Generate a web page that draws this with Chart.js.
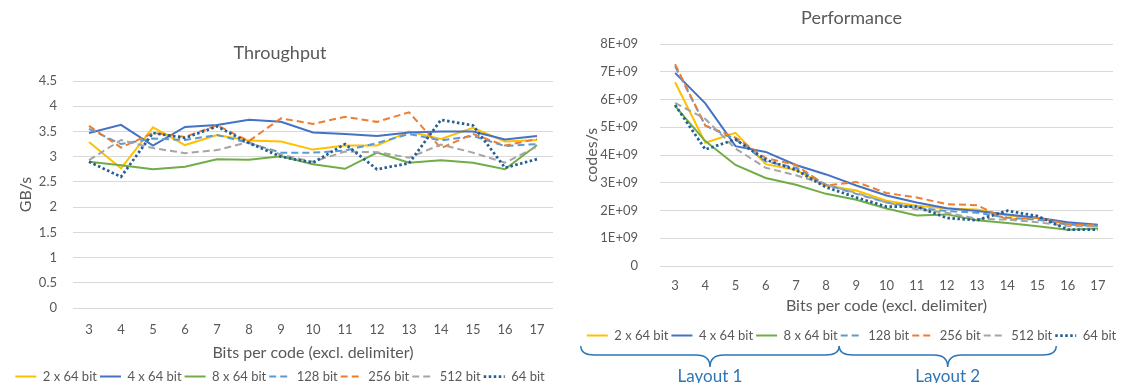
<!DOCTYPE html>
<html>
<head>
<meta charset="utf-8">
<script src="https://cdn.jsdelivr.net/npm/chart.js@4.4.1/dist/chart.umd.min.js"></script>
<style>
    html, body { margin: 0; padding: 0; background: #fff; overflow: hidden; }
    body { width: 1128px; height: 383px; position: relative; }
    #throughputBox { position: absolute; left: 0; top: 0; width: 560px; height: 393px; }
    #performanceBox { position: absolute; left: 572px; top: 0; width: 559px; height: 383px; }
</style>
</head>
<body>
<div id="throughputBox"><canvas id="throughputChart"></canvas></div>
<div id="performanceBox"><canvas id="performanceChart"></canvas></div>
<script>
const bitsPerCode = ['3', '4', '5', '6', '7', '8', '9', '10', '11', '12', '13', '14', '15', '16', '17'];
const seriesNames = ['2 x 64 bit', '4 x 64 bit', '8 x 64 bit', '128 bit', '256 bit', '512 bit', '64 bit'];
const layoutNames = ['Layout 1', 'Layout 2'];

// Throughput, GB/s
const tp2x64 = [3.29, 2.77, 3.58, 3.23, 3.43, 3.32, 3.30, 3.14, 3.22, 3.22, 3.50, 3.35, 3.57, 3.30, 3.33];
const tp4x64 = [3.47, 3.63, 3.22, 3.59, 3.63, 3.73, 3.69, 3.48, 3.45, 3.41, 3.48, 3.50, 3.50, 3.34, 3.41];
const tp8x64 = [2.90, 2.83, 2.75, 2.80, 2.95, 2.94, 3.01, 2.85, 2.76, 3.08, 2.88, 2.93, 2.88, 2.75, 3.23];
const tp128 = [3.55, 3.25, 3.36, 3.33, 3.43, 3.27, 3.08, 3.08, 3.12, 3.27, 3.45, 3.32, 3.41, 3.21, 3.25];
const tp256 = [3.61, 3.18, 3.47, 3.39, 3.62, 3.31, 3.76, 3.65, 3.79, 3.69, 3.88, 3.17, 3.45, 3.22, 3.35];
const tp512 = [2.93, 3.33, 3.17, 3.07, 3.13, 3.29, 3.04, 2.90, 3.10, 3.09, 2.98, 3.24, 3.08, 2.88, 3.20];
const tp64 = [2.90, 2.60, 3.47, 3.37, 3.60, 3.27, 3.00, 2.88, 3.25, 2.75, 2.87, 3.73, 3.62, 2.78, 2.95];

// Performance, codes/s
const perf2x64 = [6.62e9, 4.44e9, 4.80e9, 3.67e9, 3.46e9, 2.90e9, 2.72e9, 2.35e9, 2.17e9, 2.07e9, 2.04e9, 1.82e9, 1.74e9, 1.53e9, 1.43e9];
const perf4x64 = [6.96e9, 5.86e9, 4.32e9, 4.11e9, 3.64e9, 3.30e9, 2.90e9, 2.54e9, 2.29e9, 2.08e9, 1.98e9, 1.86e9, 1.74e9, 1.58e9, 1.49e9];
const perf8x64 = [5.76e9, 4.50e9, 3.64e9, 3.17e9, 2.93e9, 2.60e9, 2.39e9, 2.07e9, 1.82e9, 1.86e9, 1.65e9, 1.55e9, 1.43e9, 1.31e9, 1.35e9];
const perf128 = [7.20e9, 5.06e9, 4.56e9, 3.77e9, 3.54e9, 2.93e9, 2.60e9, 2.29e9, 2.10e9, 1.98e9, 1.92e9, 1.74e9, 1.67e9, 1.49e9, 1.45e9];
const perf256 = [7.27e9, 5.06e9, 4.63e9, 3.89e9, 3.64e9, 2.90e9, 3.03e9, 2.63e9, 2.47e9, 2.23e9, 2.19e9, 1.67e9, 1.74e9, 1.51e9, 1.46e9];
const perf512 = [5.88e9, 5.30e9, 4.23e9, 3.54e9, 3.27e9, 2.93e9, 2.63e9, 2.29e9, 2.04e9, 1.92e9, 1.70e9, 1.67e9, 1.58e9, 1.43e9, 1.43e9];
const perf64 = [5.80e9, 4.20e9, 4.56e9, 3.83e9, 3.46e9, 2.84e9, 2.47e9, 2.14e9, 2.14e9, 1.73e9, 1.65e9, 1.99e9, 1.80e9, 1.31e9, 1.31e9];

const throughputTicks = ['0', '0.5', '1', '1.5', '2', '2.5', '3', '3.5', '4', '4.5'];
const performanceTicks = ['0', '1E+09', '2E+09', '3E+09', '4E+09', '5E+09', '6E+09', '7E+09', '8E+09'];

const lineColors = ['#FFC000', '#4472C4', '#70AD47', '#5B9BD5', '#ED7D31', '#A5A5A5', '#255E91'];
const lineDashes = [[], [], [], [7, 4], [7, 4], [7, 4], [2.5, 2.5]];

const FONT = 'Lato, "Open Sans", sans-serif';
const TEXT = '#595959';
const GRID = '#D9D9D9';

function buildDatasets(seriesData) {
    return seriesData.map((values, i) => ({
        label: seriesNames[i],
        data: values,
        borderColor: lineColors[i],
        backgroundColor: lineColors[i],
        borderDash: lineDashes[i],
        borderWidth: i === 6 ? 2.75 : 2,
        pointRadius: 0,
        tension: 0,
        fill: false,
        order: seriesData.length - i   // last series drawn on top, like Excel
    }));
}

// with usePointStyle the default labels lose the dash, so copy it from the dataset
function legendLabels(chart) {
    const items = Chart.defaults.plugins.legend.labels.generateLabels(chart);
    items.forEach(item => {
        const ds = chart.data.datasets[item.datasetIndex];
        item.lineDash = ds.borderDash;
        item.lineWidth = ds.borderWidth;
        item.strokeStyle = ds.borderColor;
    });
    return items;
}

function buildOptions(cfg) {
    return {
        responsive: true,
        maintainAspectRatio: false,
        animation: false,
        devicePixelRatio: 1,
        layout: { padding: cfg.padding },
        plugins: {
            title: {
                display: true,
                text: cfg.title,
                color: TEXT,
                font: { family: FONT, size: 18, weight: 'normal' },
                padding: cfg.titlePadding
            },
            legend: {
                position: 'bottom',
                labels: {
                    usePointStyle: true,
                    pointStyle: 'line',
                    pointStyleWidth: 21,
                    padding: 3,
                    color: TEXT,
                    font: { family: FONT, size: 13 },
                    generateLabels: legendLabels,
                    sort: (a, b) => a.datasetIndex - b.datasetIndex
                }
            },
            tooltip: { enabled: false }
        },
        scales: {
            x: {
                offset: true,
                grid: { display: false, drawTicks: false },
                border: { display: false },
                ticks: { color: TEXT, font: { family: FONT, size: 13 }, padding: cfg.xTickPadding, maxRotation: 0, autoSkip: false },
                title: {
                    display: true,
                    text: 'Bits per code (excl. delimiter)',
                    color: TEXT,
                    font: { family: FONT, size: 16 },
                    padding: { top: 0, bottom: cfg.xTitleBottom }
                },
                afterFit: function (scale) { scale.height = cfg.xHeight; }
            },
            y: {
                min: 0,
                max: cfg.yMax,
                grid: { color: GRID, lineWidth: 1, drawTicks: false },
                border: { display: false },
                ticks: {
                    stepSize: cfg.yStep,
                    color: TEXT,
                    font: { family: FONT, size: 13 },
                    padding: cfg.yTickPadding,
                    callback: function (value, index) { return cfg.tickLabels[index]; }
                },
                title: {
                    display: true,
                    text: cfg.yTitle,
                    color: TEXT,
                    font: { family: FONT, size: 16 },
                    padding: { top: cfg.yTitleTop, bottom: 0 }
                },
                afterFit: function (scale) { scale.width = cfg.yWidth; }
            },
            // empty right-hand spacer so the legend keeps the full width
            spacer: {
                position: 'right',
                grid: { display: false, drawTicks: false },
                border: { display: false },
                ticks: { display: false },
                afterFit: function (scale) { scale.width = cfg.rightGap; }
            }
        }
    };
}

// curly braces under the legend grouping the two memory layouts
const layoutBraces = {
    id: 'layoutBraces',
    afterDraw(chart) {
        const boxes = chart.legend.legendHitBoxes;
        if (!boxes || boxes.length < 6) return;
        const ctx = chart.ctx;
        const start = boxes[0].left - 6;
        const join = (boxes[2].left + boxes[2].width + boxes[3].left) / 2;
        const end = boxes[5].left + boxes[5].width + 4;
        const yTop = 346, yMid = 355, yTip = 367, r = 14;

        function brace(x0, x1) {
            const mid = (x0 + x1) / 2;
            ctx.beginPath();
            ctx.moveTo(x0, yTop);
            ctx.quadraticCurveTo(x0, yMid, x0 + r, yMid);
            ctx.lineTo(mid - r, yMid);
            ctx.quadraticCurveTo(mid, yMid, mid, yTip);
            ctx.quadraticCurveTo(mid, yMid, mid + r, yMid);
            ctx.lineTo(x1 - r, yMid);
            ctx.quadraticCurveTo(x1, yMid, x1, yTop);
            ctx.stroke();
            return mid;
        }

        ctx.save();
        ctx.strokeStyle = '#2E75B6';
        ctx.lineWidth = 1.5;
        const m1 = brace(start, join);
        const m2 = brace(join, end);
        ctx.fillStyle = '#2E75B6';
        ctx.font = '17px ' + FONT;
        ctx.textAlign = 'center';
        ctx.textBaseline = 'middle';
        ctx.fillText(layoutNames[0], m1, 377);
        ctx.fillText(layoutNames[1], m2, 377);
        ctx.restore();
    }
};

new Chart(document.getElementById('throughputChart'), {
    type: 'line',
    data: {
        labels: bitsPerCode,
        datasets: buildDatasets([tp2x64, tp4x64, tp8x64, tp128, tp256, tp512, tp64])
    },
    options: buildOptions({
        title: 'Throughput',
        titlePadding: { top: 42.2, bottom: 17.2 },
        padding: { left: 0, right: 0, top: 0, bottom: 0 },
        rightGap: 7,
        xTickPadding: 14,
        xTitleBottom: 5,
        xHeight: 59,
        yMax: 4.5,
        yStep: 0.5,
        tickLabels: throughputTicks,
        yTitle: 'GB/s',
        yTitleTop: 16.4,
        yTickPadding: 16,
        yWidth: 73
    })
});

new Chart(document.getElementById('performanceChart'), {
    type: 'line',
    data: {
        labels: bitsPerCode,
        datasets: buildDatasets([perf2x64, perf4x64, perf8x64, perf128, perf256, perf512, perf64])
    },
    options: buildOptions({
        title: 'Performance',
        titlePadding: { top: 7.2, bottom: 15.2 },
        padding: { left: 0, right: 0, top: 0, bottom: 31 },
        rightGap: 18,
        xTickPadding: 12,
        xTitleBottom: 10.4,
        xHeight: 60,
        yMax: 8e9,
        yStep: 1e9,
        tickLabels: performanceTicks,
        yTitle: 'codes/s',
        yTitleTop: 10.4,
        yTickPadding: 22,
        yWidth: 88
    }),
    plugins: [layoutBraces]
});
</script>
</body>
</html>
